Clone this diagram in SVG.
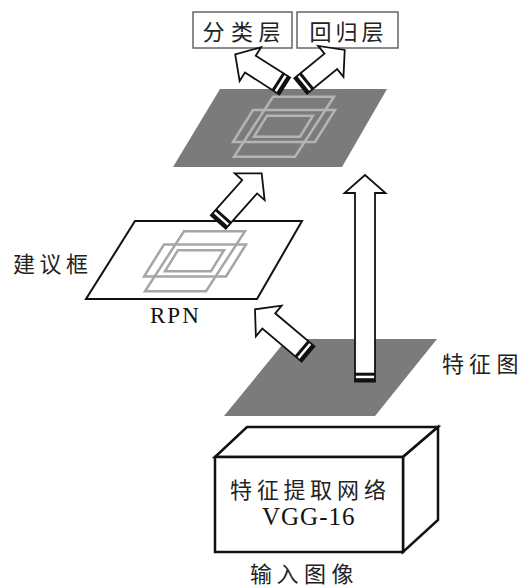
<svg xmlns="http://www.w3.org/2000/svg" width="521" height="587" viewBox="0 0 521 587">
  <style>
    .cjk { font-family: "Noto Sans CJK SC", "Noto Sans", sans-serif; font-size: 22px; fill: #222; text-anchor: middle; }
    .lat { font-family: "Liberation Serif", "Times New Roman", serif; fill: #111; }
    .plane { fill: #7b7b7b; stroke: none; }
    .paper { fill: #fff; stroke: #111; stroke-width: 2; stroke-linejoin: miter; }
    .frame { fill: none; stroke-width: 2.5; stroke-linejoin: miter; }
    .arrow { fill: #fff; stroke: #111; stroke-width: 1.8; stroke-linejoin: miter; }
    .band { fill: #111; }
    .label-box { fill: #fff; stroke: #666; stroke-width: 1.5; }
    .block { fill: #fff; stroke: #111; stroke-width: 2.5; stroke-linejoin: miter; }
  </style>
  <defs>
    <!-- three overlapping region frames drawn on a map plane -->
    <g id="frames">
      <polygon points="273,96.7 334,96.7 295,156.7 234,156.7"/>
      <polygon points="253,110 335,110 315,142 233,142"/>
      <polygon points="267,115.7 313,115.7 300,136.7 254,136.7"/>
    </g>
    <!-- striped tail of a block arrow (arrow points along +x from the origin) -->
    <g id="tail">
      <rect class="band" x="0" y="-10" width="3.5" height="20"/>
      <rect class="band" x="6" y="-10" width="3" height="20"/>
    </g>
  </defs>

  <!-- output layers -->
  <g id="cls">
    <rect class="label-box" x="193" y="12" width="99" height="36"/>
    <text class="cjk" x="213.5 242 269.5" y="40">分类层</text>
  </g>
  <g id="reg">
    <rect class="label-box" x="297" y="12" width="101" height="36"/>
    <text class="cjk" x="320.5 346.5 372.5" y="40">回归层</text>
  </g>

  <!-- pooled feature map with proposals -->
  <g id="roi-map">
    <polygon class="plane" points="220,89 387,89 342,167 173,167"/>
    <use href="#frames" class="frame" stroke="#b4b4b4"/>
  </g>

  <!-- region proposal network -->
  <g id="rpn">
    <polygon class="paper" points="135,221 302,221 257,299 86,299"/>
    <use href="#frames" class="frame" stroke="#a6a6a6" transform="translate(-89,134.5)"/>
    <text class="lat" x="150" y="323" font-size="23" letter-spacing="2">RPN</text>
  </g>
  <g id="proposal-label">
    <text class="cjk" x="24 50.5 77" y="271.5">建议框</text>
  </g>

  <!-- feature map -->
  <g id="feature-map">
    <polygon class="plane" points="287,339 437,339 375,416 224,416"/>
    <text class="cjk" x="453 480 507.5" y="371.5">特征图</text>
  </g>

  <!-- backbone block -->
  <g id="backbone">
    <polygon class="block" points="215,457 247,427 438,427 403,457"/>
    <polygon class="block" points="403,457 438,427 438,520 403,552"/>
    <rect class="block" x="215" y="457" width="188" height="95"/>
    <text class="cjk" x="241 268 294.5 321 348 375" y="498.3" font-size="24">特征提取网络</text>
    <text class="lat" x="262" y="525" font-size="25" letter-spacing="1">VGG-16</text>
  </g>
  <g id="input">
    <text class="cjk" x="261 287.5 315 342.5" y="581.5">输入图像</text>
  </g>

  <!-- connectors: block arrows -->
  <g id="connectors">
    <g transform="translate(365,381.7) rotate(-90)">
      <path class="arrow" d="M0,-10 H188.7 V-20.5 L206.7,0 L188.7,20.5 V10 H0 Z"/>
      <use href="#tail"/>
    </g>
    <g transform="translate(308,354) rotate(-139.9)">
      <path class="arrow" d="M0,-10 H51.3 V-20 L69.3,0 L51.3,20 V10 H0 Z"/>
      <use href="#tail"/>
    </g>
    <g transform="translate(218.3,222) rotate(-48.3)">
      <path class="arrow" d="M0,-10 H47.2 V-20 L65.2,0 L47.2,20 V10 H0 Z"/>
      <use href="#tail"/>
    </g>
    <g transform="translate(284.7,86) rotate(-147.5)">
      <path class="arrow" d="M0,-10 H40.7 V-20 L58.7,0 L40.7,20 V10 H0 Z"/>
      <use href="#tail"/>
    </g>
    <g transform="translate(300.7,86) rotate(-39.3)">
      <path class="arrow" d="M0,-10 H38.9 V-20 L56.9,0 L38.9,20 V10 H0 Z"/>
      <use href="#tail"/>
    </g>
  </g>
</svg>
